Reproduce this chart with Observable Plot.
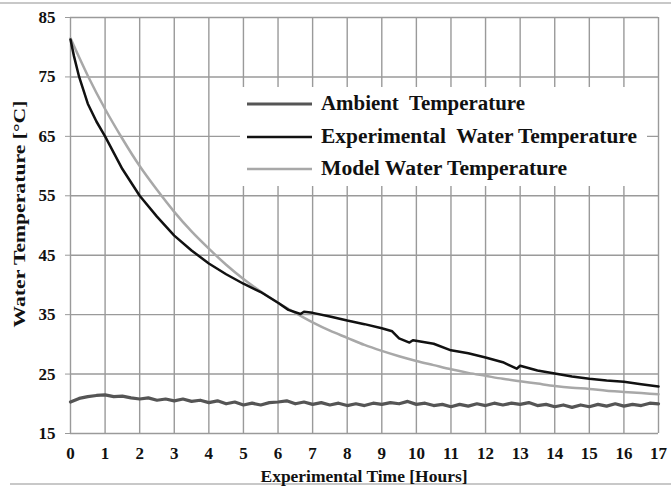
<!DOCTYPE html>
<html>
<head>
<meta charset="utf-8">
<script src="https://cdn.jsdelivr.net/npm/d3@7"></script>
<script src="https://cdn.jsdelivr.net/npm/@observablehq/plot@0.6"></script>
<style>
  html, body { margin: 0; padding: 0; background: #fff; }
  svg, svg text { font-family: "Liberation Serif", "Times New Roman", Times, serif !important; }
</style>
</head>
<body>
<div id="chart"></div>
<script>
// ---- Data ----
const xTicks = [0,1,2,3,4,5,6,7,8,9,10,11,12,13,14,15,16,17];
const yTicks = [15,25,35,45,55,65,75,85];

const seriesNames = ["Ambient  Temperature", "Experimental  Water Temperature", "Model Water Temperature"];

// Model water temperature
const modelTime = [0,0.5,1,1.5,2,2.5,3,3.5,4,4.5,5,5.5,6,6.5,7,7.5,8,8.5,9,9.5,10,10.5,11,11.5,12,12.5,13,13.5,14,14.5,15,15.5,16,16.5,17];
const modelTemp = [81.5,75.2,69.6,64.6,60.0,56.0,52.3,49.0,46.1,43.4,41.0,38.9,37.0,35.3,33.7,32.3,31.1,29.9,28.9,28.0,27.2,26.5,25.8,25.2,24.7,24.2,23.8,23.4,23.0,22.7,22.5,22.2,22.0,21.8,21.6];

// Experimental water temperature
const expTime = [0,0.1,0.25,0.5,0.75,1,1.5,2,2.5,3,3.5,4,4.5,5,5.5,6,6.3,6.65,6.75,7,7.5,8,8.5,9,9.3,9.5,9.8,9.9,10.5,11,11.5,12,12.5,12.9,13,13.5,14,14.5,15,15.5,16,16.5,17];
const expTemp = [81.3,78.5,75.0,70.5,67.5,65.0,59.5,55.0,51.5,48.3,45.8,43.6,41.8,40.2,38.8,37.0,35.8,35.1,35.5,35.3,34.7,34.0,33.4,32.7,32.2,31.0,30.3,30.7,30.1,29.0,28.5,27.8,27.0,25.9,26.4,25.6,25.1,24.6,24.2,23.9,23.7,23.3,22.9];

// Ambient temperature (every 0.25 h)
const ambTime = d3.range(0, 17.001, 0.25);
const ambTemp = [20.3,20.9,21.2,21.4,21.5,21.2,21.3,21.0,20.8,21.0,20.6,20.8,20.5,20.8,20.4,20.6,20.2,20.5,20.0,20.3,19.8,20.1,19.8,20.2,20.3,20.5,20.0,20.3,19.9,20.2,19.8,20.1,19.7,20.0,19.7,20.1,19.9,20.2,20.0,20.4,19.9,20.1,19.7,19.9,19.5,19.9,19.6,20.0,19.7,20.1,19.8,20.1,19.9,20.2,19.7,19.9,19.5,19.8,19.4,19.8,19.5,19.9,19.6,20.0,19.6,19.9,19.7,20.1,20.0];

const seriesColors = ["#555555", "#111111", "#a8a8a8"];
const seriesWidths = [3.2, 2.5, 2.5];

const ambient = ambTime.map((t, i) => ({t, v: ambTemp[i]}));
const experimental = expTime.map((t, i) => ({t, v: expTemp[i]}));
const model = modelTime.map((t, i) => ({t, v: modelTemp[i]}));

const W = 671, H = 487;
const mL = 70, mR = 13, mT = 17, mB = 54;
const FONT = '"Liberation Serif", "Times New Roman", Times, serif';

const chart = Plot.plot({
  width: W,
  height: H,
  marginLeft: mL,
  marginRight: mR,
  marginTop: mT,
  marginBottom: mB,
  style: {background: "#fff", fontFamily: FONT},
  x: {domain: [0, 17], ticks: xTicks},
  y: {domain: [15, 85], ticks: yTicks},
  marks: [
    Plot.gridX(xTicks, {stroke: "#9a9a9a", strokeOpacity: 1, strokeWidth: 1.4}),
    Plot.gridY(yTicks, {stroke: "#9a9a9a", strokeOpacity: 1, strokeWidth: 1.4}),
    Plot.axisX(xTicks, {tickSize: 0, tickPadding: 13, label: null, fontSize: 17, fontWeight: "bold", fill: "#111"}),
    Plot.axisY(yTicks, {tickSize: 5, tickPadding: 10, label: null, fontSize: 17, fontWeight: "bold", fill: "#111", stroke: "#9a9a9a"}),
    Plot.line(model, {x: "t", y: "v", stroke: seriesColors[2], strokeWidth: seriesWidths[2], curve: "monotone-x"}),
    Plot.line(ambient, {x: "t", y: "v", stroke: seriesColors[0], strokeWidth: seriesWidths[0], curve: "linear"}),
    Plot.line(experimental, {x: "t", y: "v", stroke: seriesColors[1], strokeWidth: seriesWidths[1], curve: "linear"})
  ]
});

const svg = d3.select(chart);

// chart-area border lines
svg.append("line").attr("x1", 0).attr("x2", W).attr("y1", 3).attr("y2", 3)
  .attr("stroke", "#c8c8c8").attr("stroke-width", 2);
svg.append("line").attr("x1", 10).attr("x2", W).attr("y1", 484).attr("y2", 484)
  .attr("stroke", "#c8c8c8").attr("stroke-width", 2);

// axis titles
svg.append("text")
  .attr("x", 364).attr("y", 482)
  .attr("text-anchor", "middle")
  .attr("font-family", FONT)
  .attr("font-size", 17).attr("font-weight", "bold").attr("fill", "#111")
  .attr("textLength", 207).attr("lengthAdjust", "spacingAndGlyphs")
  .text("Experimental Time [Hours]");
svg.append("text")
  .attr("transform", "translate(25,214) rotate(-90)")
  .attr("text-anchor", "middle")
  .attr("font-family", FONT)
  .attr("font-size", 17).attr("font-weight", "bold").attr("fill", "#111")
  .attr("textLength", 227).attr("lengthAdjust", "spacingAndGlyphs")
  .text("Water Temperature [°C]");

// legend (inside the plot)
const lg = svg.append("g");
lg.append("rect").attr("x", 240).attr("y", 87).attr("width", 407).attr("height", 99).attr("fill", "#fff");
const rowsY = [104, 137, 169];
const textLens = [204, 316, 246];
seriesNames.forEach((name, i) => {
  lg.append("line").attr("x1", 247).attr("x2", 312).attr("y1", rowsY[i]).attr("y2", rowsY[i])
    .attr("stroke", seriesColors[i]).attr("stroke-width", seriesWidths[i]);
  lg.append("text").attr("x", 321).attr("y", rowsY[i] + 6)
    .attr("text-anchor", "start")
    .attr("xml:space", "preserve")
    .attr("font-family", FONT)
    .attr("font-size", 20).attr("font-weight", "bold").attr("fill", "#111")
    .attr("textLength", textLens[i]).attr("lengthAdjust", "spacingAndGlyphs")
    .text(name);
});

document.getElementById("chart").appendChild(chart);
</script>
</body>
</html>
